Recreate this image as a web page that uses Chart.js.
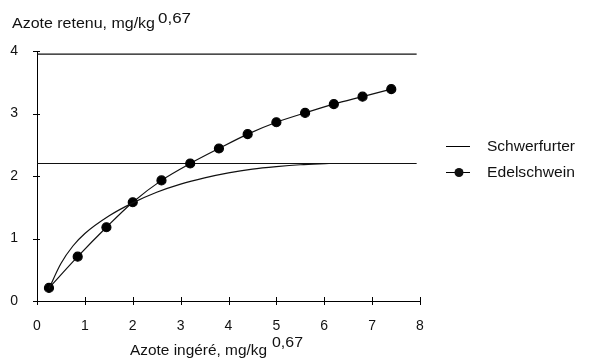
<!DOCTYPE html>
<html lang="fr">
<head>
<meta charset="UTF-8" />
<title>Azote retenu</title>
<style>
  body { margin: 0; background: #fff; }
  #wrap { width: 590px; height: 363px; }
</style>
</head>
<body>
<div id="wrap"><canvas id="graph"></canvas></div>
<script src="https://cdn.jsdelivr.net/npm/chart.js"></script>
<script>
// valeurs
const edelX = [0.25, 0.85, 1.45, 2.0, 2.6, 3.2, 3.8, 4.4, 5.0, 5.6, 6.2, 6.8, 7.4];
const edelY = [0.21, 0.71, 1.18, 1.58, 1.93, 2.2, 2.44, 2.67, 2.86, 3.01, 3.15, 3.27, 3.39];
const schwX = [0.25, 0.5, 0.75, 1.0, 1.5, 2.0, 2.5, 3.0, 3.5, 4.0, 4.5, 5.0, 5.5, 6.1];
const schwY = [0.2, 0.6, 0.88, 1.08, 1.36, 1.57, 1.74, 1.87, 1.97, 2.05, 2.11, 2.15, 2.18, 2.2];
const plafondX = [0, 7.93];
const plafondSchw = [2.2, 2.2];
const plafondEdel = [3.95, 3.95];
const xTicks = [0, 1, 2, 3, 4, 5, 6, 7, 8];
const yTicks = [0, 1, 2, 3, 4];
const legende = ["Schwerfurter", "Edelschwein"];

const pts = (xs, ys) => xs.map((x, i) => ({ x: x, y: ys[i] }));
const FONT = "'Liberation Sans', Arial, sans-serif";

// texte etire a une largeur donnee (la police du scan est plus large)
function texteLarge(c, txt, x, y, larg) {
  const w = c.measureText(txt).width;
  c.save();
  c.translate(x, y);
  c.scale(larg / w, 1);
  c.fillText(txt, 0, 0);
  c.restore();
}

// titres, legende et petites graduations
const deco = {
  id: 'deco',
  afterDraw(chart) {
    const c = chart.ctx;
    const xs = chart.scales.x, ys = chart.scales.y;
    c.save();
    c.strokeStyle = '#000';
    c.lineWidth = 1;
    yTicks.forEach(v => {
      const p = Math.round(ys.getPixelForValue(v)) + 0.5;
      c.beginPath(); c.moveTo(xs.left - 4, p); c.lineTo(xs.left + 3, p); c.stroke();
    });
    xTicks.forEach(v => {
      const p = Math.round(xs.getPixelForValue(v)) + 0.5;
      c.beginPath(); c.moveTo(p, ys.bottom - 4); c.lineTo(p, ys.bottom + 4); c.stroke();
    });

    c.fillStyle = '#111';
    c.textBaseline = 'alphabetic';
    c.textAlign = 'left';
    c.font = '14px ' + FONT;
    texteLarge(c, 'Azote retenu, mg/kg', 12, 28, 143);
    texteLarge(c, 'Azote ingéré, mg/kg', 130, 355, 137);
    c.font = '14px ' + FONT;
    texteLarge(c, '0,67', 158, 23, 33);
    texteLarge(c, '0,67', 272, 347, 31);

    // legende
    c.font = '14px ' + FONT;
    c.textBaseline = 'middle';
    c.beginPath(); c.moveTo(446, 146.5); c.lineTo(470, 146.5); c.stroke();
    texteLarge(c, legende[0], 487, 147, 88);
    c.beginPath(); c.moveTo(446, 172.5); c.lineTo(470, 172.5); c.stroke();
    c.beginPath(); c.arc(459, 172.5, 4.5, 0, Math.PI * 2); c.fill();
    texteLarge(c, legende[1], 487, 173, 88);
    c.restore();
  }
};

new Chart(document.getElementById('graph'), {
  type: 'scatter',
  data: {
    datasets: [
      {
        label: legende[0],
        data: pts(schwX, schwY),
        showLine: true,
        borderColor: '#111',
        borderWidth: 1.2,
        pointRadius: 0,
        cubicInterpolationMode: 'monotone'
      },
      {
        label: legende[1],
        data: pts(edelX, edelY),
        showLine: true,
        borderColor: '#111',
        borderWidth: 1.2,
        pointRadius: 4.5,
        pointBackgroundColor: '#000',
        pointBorderColor: '#000',
        tension: 0.3
      },
      {
        label: 'plafond S',
        data: pts(plafondX, plafondSchw),
        showLine: true,
        borderColor: '#111',
        borderWidth: 1.2,
        pointRadius: 0
      },
      {
        label: 'plafond E',
        data: pts(plafondX, plafondEdel),
        showLine: true,
        borderColor: '#111',
        borderWidth: 1.2,
        pointRadius: 0
      }
    ]
  },
  options: {
    responsive: true,
    maintainAspectRatio: false,
    animation: false,
    layout: { padding: { top: 51, right: 170, bottom: 0, left: 0 } },
    plugins: {
      legend: { display: false },
      tooltip: { enabled: false }
    },
    scales: {
      x: {
        type: 'linear',
        min: 0,
        max: 8,
        afterFit: s => { s.height = 62; },
        afterBuildTicks: s => { s.ticks = xTicks.map(v => ({ value: v })); },
        grid: { display: false },
        border: { display: true, color: '#000', width: 1 },
        ticks: { color: '#111', font: { family: FONT, size: 14 }, padding: 9, maxRotation: 0 }
      },
      y: {
        type: 'linear',
        min: 0,
        max: 4,
        afterFit: s => { s.width = 37; },
        afterBuildTicks: s => { s.ticks = yTicks.map(v => ({ value: v })); },
        grid: { display: false },
        border: { display: true, color: '#000', width: 1 },
        ticks: { color: '#111', font: { family: FONT, size: 14 }, padding: 11 }
      }
    }
  },
  plugins: [deco]
});
</script>
</body>
</html>
